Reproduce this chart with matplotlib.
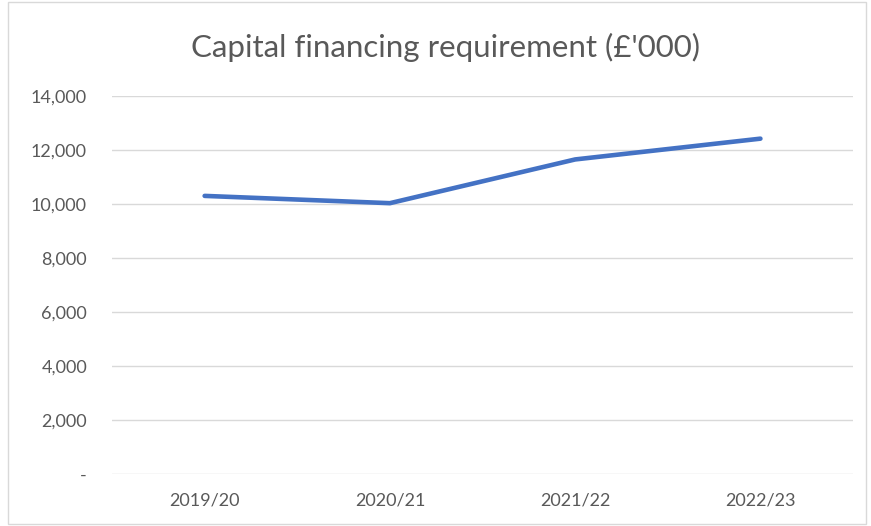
import matplotlib
matplotlib.use("Agg")
import matplotlib.pyplot as plt
from matplotlib.patches import Rectangle

years = ["2019/20", "2020/21", "2021/22", "2022/23"]
cfr = [10300, 10030, 11650, 12420]
yticks = [0, 2000, 4000, 6000, 8000, 10000, 12000, 14000]

plt.rcParams['font.family'] = ['Lato', 'DejaVu Sans']

fig = plt.figure(figsize=(8.71, 5.26), dpi=100)
ax = fig.add_axes([0.1286, 0.0989, 0.8508, 0.7186])

x = range(len(years))
ax.plot(x, cfr, c='#4472C4', lw=3.3, solid_capstyle='round', solid_joinstyle='round')

ax.set_xlim(-0.5, len(years) - 0.5)
ax.set_ylim(0, 14000)
ax.set_xticks(list(x))
ax.set_xticklabels(years)
ax.set_yticks(yticks)
ax.set_yticklabels(['-' if v == 0 else f"{v:,}" for v in yticks])
ax.tick_params(colors='#595959', labelsize=13, length=0)
ax.tick_params(axis='y', pad=18)
ax.tick_params(axis='x', pad=13)
ax.grid(axis='y', color='#D9D9D9', lw=1)
ax.set_axisbelow(True)
for s in ax.spines.values():
    s.set_visible(False)

fig.text(0.511, 0.91, "Capital financing requirement (£'000)", ha='center', va='center',
         fontsize=22.5, color='#595959')

# chart border
fig.patches.append(Rectangle((0.009, 0.004), 0.985, 0.992, transform=fig.transFigure,
                             fill=False, ec='#D9D9D9', lw=1))

fig.savefig("out.png", dpi=100)
